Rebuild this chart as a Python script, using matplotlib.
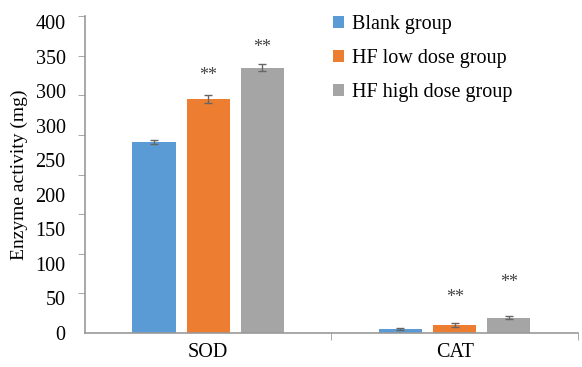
import matplotlib.pyplot as plt
import numpy as np

plt.rcParams['font.family'] = ['Liberation Serif', 'DejaVu Serif']

# data
categories = ["SOD", "CAT"]
groups = ["Blank group", "HF low dose group", "HF high dose group"]
blank = [241, 5]
low = [295, 10]
high = [335, 19]
blank_err = [3, 1.5]
low_err = [5, 2]
high_err = [4, 2]
# where the "**" marks sit (low and high dose groups)
star_low = [325, 45]
star_high = [360, 63]
ytick_labels = ["0", "50", "100", "150", "200", "250", "300", "300", "350", "400"]

colors = ["#5B9BD5", "#ED7D31", "#A5A5A5"]

fig = plt.figure(figsize=(5.82, 3.67), dpi=100)
ax = fig.add_axes([0.146, 0.093, 0.847, 0.863])

x = np.arange(len(categories))
w = 0.175
step = 0.22
series = [(blank, blank_err), (low, low_err), (high, high_err)]
for i, (vals, errs) in enumerate(series):
    ax.bar(x + (i - 1) * step, vals, width=w, color=colors[i], label=groups[i],
           yerr=errs, error_kw=dict(ecolor="#666666", elinewidth=1, capsize=3, capthick=1))

for i in range(len(categories)):
    ax.text(x[i], star_low[i], "**", ha="center", va="center", fontsize=13, color="#444444")
    ax.text(x[i] + step, star_high[i], "**", ha="center", va="center", fontsize=13, color="#444444")

ax.set_xlim(-0.5, 1.5)
ax.set_ylim(0, 400)

# tick marks every 50, labels set out evenly as in the original figure
ax.set_yticks(np.arange(0, 401, 50), minor=True)
ax.set_yticks(np.linspace(0, 392, len(ytick_labels)))
ax.set_yticklabels(ytick_labels, fontsize=14.5)
ax.tick_params(axis="y", which="major", length=0, pad=14)
ax.tick_params(axis="y", which="minor", length=5, color="#999999", direction="out")

ax.set_xticks(x)
ax.set_xticklabels(categories, fontsize=14.5)
ax.set_xticks([0.5, 1.5], minor=True)
ax.tick_params(axis="x", which="major", length=0, pad=7)
ax.tick_params(axis="x", which="minor", length=5, color="#999999", direction="out")

for s in ["top", "right"]:
    ax.spines[s].set_visible(False)
for s in ["left", "bottom"]:
    ax.spines[s].set_color("#999999")
    ax.spines[s].set_linewidth(1.2)

ax.set_ylabel("Enzyme activity (mg)", fontsize=14, labelpad=5)

ax.legend(loc="upper left", bbox_to_anchor=(0.466, 1.06), frameon=False, fontsize=14.5,
          handlelength=0.55, handleheight=0.55, handletextpad=0.4, labelspacing=0.75)

plt.savefig("out.png")
